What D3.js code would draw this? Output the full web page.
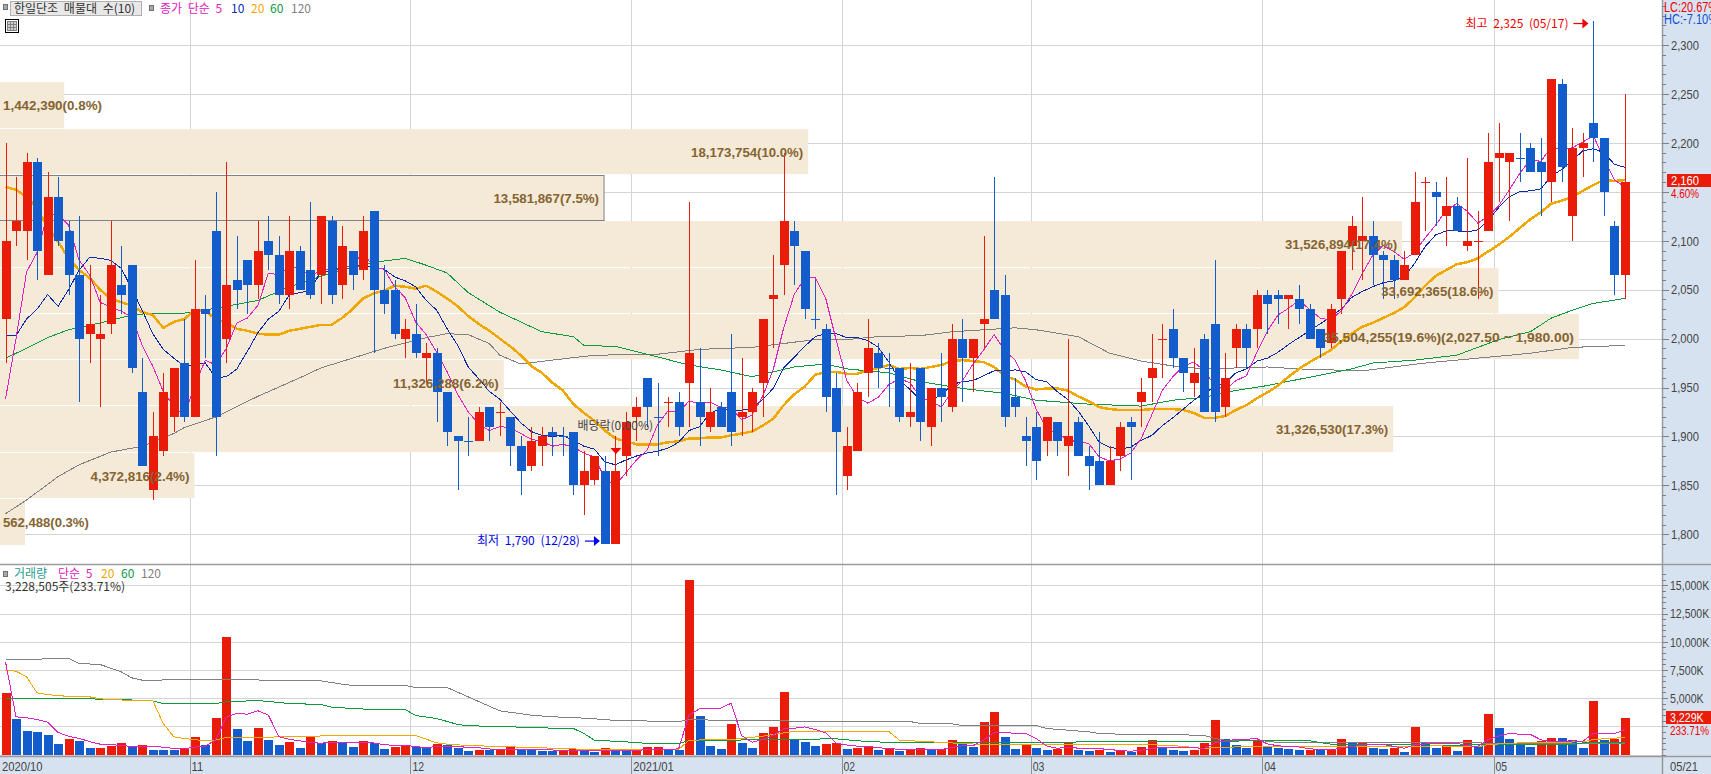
<!DOCTYPE html>
<html>
<head>
<meta charset="utf-8">
<script src="https://cdnjs.cloudflare.com/ajax/libs/d3/7.8.5/d3.min.js"></script>
<style>
html, body { margin: 0; padding: 0; background: #fff; }
svg { display: block; }
text { font-family: "Noto Sans CJK KR", "Liberation Sans", sans-serif; font-size: 12px; word-spacing: 3px; }
.num { font-family: "Liberation Sans", sans-serif; font-size: 13.5px; word-spacing: 0; }
</style>
</head>
<body>
<div id="chart"></div>
<script>
// month tick labels and the candle index where each month starts
const monthLabels = ["2020/10", "11", "12", "2021/01", "02", "03", "04", "05"];
const monthStarts = [0, 18, 39, 60, 80, 98, 120, 142];

// daily candles
const opens = [2020,2110,2110,2180,2065,2145,2110,2065,2005,2000,2015,2055,2075,1945,1845,1885,1920,1975,1920,2030,2110,2000,2060,2080,2055,2100,2085,2045,2090,2070,2065,2120,2055,2090,2070,2130,2050,2050,2000,2005,1980,1985,1945,1900,1895,1895,1930,1925,1920,1890,1870,1890,1905,1900,1905,1850,1855,1865,1790,1880,1920,1960,1920,1935,1935,1955,1935,1910,1930,1945,1920,1925,1955,2040,2075,2110,2090,2020,2010,1950,1860,1885,1965,1985,1970,1970,1920,1970,1910,1950,1930,2000,1980,2015,2050,2045,1940,1900,1910,1895,1915,1890,1915,1880,1875,1850,1880,1915,1935,1960,2000,2010,1980,1955,2000,2015,1930,1990,2010,2010,2045,2045,2040,2040,2030,2010,1995,2040,2095,2100,2105,2085,2080,2060,2085,2160,2150,2125,2135,2095,2100,2110,2185,2180,2185,2195,2180,2160,2260,2125,2195,2220,2205,2115,2065];
const highs = [2200,2165,2190,2185,2170,2165,2120,2125,2075,2045,2120,2095,2075,1980,1925,1965,1970,2020,2080,2045,2150,2180,2105,2080,2120,2125,2105,2125,2095,2140,2125,2125,2115,2090,2125,2130,2075,2060,2020,2035,1995,1990,1945,1900,1920,1930,1930,1935,1920,1900,1910,1910,1910,1910,1905,1885,1880,1880,1900,1925,1940,1960,1955,1940,1945,2140,1990,1950,1935,2005,1980,1950,2020,2085,2190,2120,2090,2060,2015,1965,1910,1955,2020,1995,1985,1970,1975,1970,1950,1985,2015,2020,2000,2105,2165,2065,1960,1920,1925,1920,1915,2000,1920,1890,1905,1890,1915,1920,1960,2005,2015,2030,1980,1990,2005,2080,1985,2015,2015,2050,2050,2050,2045,2055,2035,2010,2035,2090,2125,2145,2120,2090,2085,2090,2170,2165,2160,2165,2145,2185,2130,2210,2220,2190,2210,2200,2205,2265,2265,2215,2210,2325,2205,2120,2250];
const lows = [1975,2095,2080,2060,2065,2095,2045,1935,1975,1930,2005,2025,1965,1870,1835,1880,1905,1915,1920,1980,1880,1975,2030,2025,2040,2070,2035,2030,2050,2040,2035,2035,2040,2050,2060,1985,2025,2000,1980,1980,1955,1915,1890,1845,1880,1895,1895,1900,1870,1840,1865,1870,1880,1880,1840,1820,1850,1790,1790,1860,1895,1910,1880,1910,1900,1910,1890,1905,1910,1890,1900,1905,1920,1990,2045,2055,2020,2010,1925,1840,1845,1885,1940,1950,1930,1915,1910,1895,1890,1915,1925,1935,1945,1990,2020,1910,1920,1870,1855,1880,1880,1860,1880,1845,1850,1850,1865,1855,1910,1935,1960,1970,1945,1940,1925,1915,1920,1970,1970,1990,2005,2015,2010,2015,2000,1980,1990,2025,2070,2060,2055,2040,2040,2060,2085,2110,2115,2095,2110,2090,2040,2110,2140,2120,2160,2170,2125,2140,2160,2100,2165,2180,2125,2045,2040];
const closes = [2100,2120,2180,2090,2145,2100,2065,2000,2015,2005,2075,2045,1970,1870,1900,1945,1970,1920,2030,2025,1920,2055,2050,2055,2090,2085,2045,2090,2050,2045,2125,2045,2095,2065,2110,2050,2035,2005,2010,1985,1985,1945,1905,1895,1895,1925,1910,1925,1890,1865,1895,1900,1900,1900,1850,1865,1880,1790,1865,1915,1930,1930,1920,1935,1910,1985,1920,1925,1910,1905,1925,1945,2020,2045,2120,2095,2030,2020,1940,1905,1890,1945,1990,1970,1970,1920,1925,1915,1950,1940,2000,1980,2000,2020,2020,1920,1930,1895,1875,1920,1895,1900,1880,1870,1850,1875,1910,1910,1945,1970,2000,1980,1965,1965,1925,1925,1960,2010,1990,2045,2035,2040,2045,2030,2000,1990,2030,2090,2115,2105,2085,2080,2060,2075,2140,2160,2145,2135,2110,2100,2100,2180,2190,2190,2185,2170,2170,2265,2175,2195,2200,2205,2150,2065,2160];
// crosses (open = close) that are drawn red in the picture
const redCrosses = [47, 63, 110, 135, 140];

// price moving averages, per candle
const ma5 = [1938,2000,2068,2088,2127,2127,2116,2080,2065,2037,2032,2028,2022,1993,1972,1946,1931,1921,1953,1978,1973,1990,2016,2021,2034,2067,2065,2073,2072,2063,2071,2071,2072,2075,2088,2073,2071,2053,2042,2017,2004,1986,1966,1943,1925,1913,1906,1910,1909,1903,1897,1895,1890,1892,1889,1883,1879,1857,1850,1863,1876,1886,1912,1926,1925,1936,1934,1935,1930,1929,1917,1922,1941,1968,2011,2045,2062,2062,2041,1998,1957,1940,1934,1940,1953,1959,1955,1940,1936,1930,1946,1957,1974,1988,2004,1988,1978,1957,1928,1908,1903,1897,1894,1893,1879,1875,1877,1883,1898,1922,1947,1961,1972,1976,1967,1952,1948,1957,1962,1986,2008,2024,2031,2039,2030,2021,2019,2028,2045,2066,2085,2095,2089,2081,2088,2103,2116,2131,2138,2130,2118,2125,2136,2152,2169,2183,2181,2196,2193,2195,2201,2207,2184,2162,2155];
const ma10 = [2003,2003,2020,2030,2045,2033,2050,2070,2083,2082,2080,2072,2051,2029,2005,1989,1980,1972,1973,1975,1960,1961,1969,1987,2006,2020,2028,2045,2047,2049,2069,2068,2073,2074,2076,2072,2071,2063,2059,2053,2039,2029,2010,1993,1971,1959,1946,1938,1926,1914,1905,1901,1900,1901,1896,1890,1887,1874,1871,1876,1880,1883,1885,1888,1894,1906,1910,1924,1928,1927,1927,1928,1938,1949,1970,1981,1992,2002,2005,2005,2001,2001,1998,1991,1976,1958,1948,1937,1938,1942,1953,1956,1957,1962,1967,1967,1968,1966,1958,1956,1946,1938,1926,1911,1894,1889,1887,1889,1896,1901,1911,1919,1928,1937,1945,1950,1955,1965,1969,1977,1980,1986,1994,2001,2008,2015,2022,2030,2042,2048,2053,2057,2059,2063,2077,2094,2106,2110,2110,2109,2111,2121,2134,2145,2150,2151,2153,2166,2173,2182,2192,2194,2190,2178,2175];
const ma20 = [2155,2152,2145,2133,2114,2099,2082,2070,2062,2050,2041,2037,2034,2027,2024,2011,2017,2020,2029,2028,2020,2016,2010,2008,2005,2004,2004,2008,2010,2012,2014,2014,2021,2030,2041,2046,2049,2054,2053,2051,2054,2048,2041,2033,2023,2015,2008,2000,1992,1983,1972,1965,1955,1947,1933,1924,1916,1906,1898,1895,1892,1892,1892,1894,1895,1898,1898,1899,1899,1901,1903,1905,1911,1918,1932,1943,1951,1963,1966,1966,1964,1964,1968,1970,1973,1969,1970,1969,1971,1973,1977,1978,1977,1976,1971,1962,1958,1951,1948,1949,1949,1947,1941,1936,1930,1928,1927,1927,1927,1928,1928,1928,1927,1924,1919,1919,1921,1927,1932,1939,1945,1952,1961,1969,1976,1982,1988,1997,2005,2012,2016,2021,2026,2032,2042,2054,2064,2070,2076,2078,2082,2089,2096,2104,2113,2122,2129,2138,2141,2145,2151,2157,2162,2161,2162];
// slower averages, [candle index, price] read at the turning points
const ma60 = [[0,1980],[2,1990],[4,2001],[6,2009],[9,2016],[12,2024],[14,2026],[17,2026],[20,2031],[24,2039],[27,2053],[31,2067],[35,2078],[38,2082],[40,2075],[42,2067],[44,2047],[47,2027],[51,2007],[54,2002],[55,1993],[58,1992],[61,1984],[65,1973],[68,1968],[71,1961],[73,1966],[75,1971],[78,1974],[80,1969],[84,1965],[87,1956],[91,1949],[95,1944],[98,1937],[103,1933],[108,1931],[111,1937],[114,1940],[117,1947],[120,1952],[128,1969],[130,1975],[134,1978],[138,1983],[142,1999],[145,2007],[147,2021],[149,2029],[151,2036],[154,2041]];
const ma120 = [[0,1821],[2,1835],[5,1859],[7,1871],[10,1884],[13,1890],[16,1903],[17,1909],[20,1920],[24,1941],[28,1960],[30,1970],[33,1980],[36,1990],[40,2001],[42,2005],[44,2004],[46,1995],[47,1983],[49,1974],[52,1978],[56,1983],[62,1984],[66,1989],[71,1991],[74,1995],[77,1999],[80,1999],[83,2002],[87,2003],[90,2007],[96,2011],[98,2009],[102,2002],[105,1985],[108,1977],[111,1972],[114,1969],[120,1971],[123,1969],[129,1967],[135,1975],[145,1985],[149,1991],[154,1993]];

// volume in thousands of shares, R = up from the day before, B = down
const volume = [5437,3132,2068,1980,1714,916,1359,1182,561,561,739,1005,650,827,384,384,384,561,1537,827,3221,10402,2246,1182,2334,1271,827,1093,561,1537,1005,1182,1093,650,1182,1005,473,650,739,650,561,916,827,561,296,384,384,384,650,384,384,296,296,384,473,296,207,561,296,296,384,650,650,384,384,15455,3398,739,473,2689,1005,561,1891,2423,5526,1271,1093,739,916,1005,473,561,650,384,473,296,473,561,384,473,1271,1093,650,2866,3753,1537,473,827,561,384,473,1005,384,296,384,207,384,207,650,1271,650,384,296,384,1005,3044,1359,827,561,1182,739,561,473,384,384,384,384,1359,1005,1005,561,473,561,207,2423,1005,561,739,296,1271,739,3576,2334,1359,1005,650,1182,1448,1448,1271,561,4728,1271,1359,3221];
const volumeDir = "RBBBBBRBBRRRBRBBBRRBRRBBRBBRBRBRBBRBBRRBBRBBBRBRRBBBBRRBBRBBRRRBBRBBBRBBRRRBBBRRBRRBRBRRBRRBBRRBBRBBRRBBRBRBRRBBBRRRBBBRBBBBRBRRBRBBRBRBBRBRBRBBBBRRBBBRBRR";
const volMa5 = [8215,3340,3250,3100,2866,1962,1607,1430,1146,916,880,810,703,756,721,650,526,508,650,739,1306,3310,3647,3576,3877,3487,1572,1342,1217,1058,1005,1076,1076,1094,1023,1023,881,792,810,704,615,703,739,703,632,597,491,402,420,437,437,420,402,349,367,349,331,384,367,331,349,438,455,473,491,3505,4054,4072,4090,4551,1661,1094,1324,1714,2281,2335,2441,2211,1909,1005,845,739,721,615,508,473,455,438,438,438,633,757,774,1271,1927,1980,1856,1891,1430,757,544,650,562,509,509,455,331,296,367,544,633,633,650,597,544,1023,1218,1324,1359,1395,934,774,703,668,508,437,402,579,703,828,863,881,721,562,845,934,952,987,1005,775,721,1324,1643,1856,1803,1785,1306,1129,1147,1200,1182,1891,1856,1838,2228];
const volMa20 = [[0,7447],[1,7388],[2,6885],[3,5467],[4,5319],[5,5201],[8,5112],[9,4935],[12,4787],[14,4787],[15,2748],[16,1566],[17,1418],[19,1212],[20,1271],[21,1507],[24,1507],[26,1566],[29,1625],[33,1684],[39,1684],[41,1034],[42,916],[44,798],[47,709],[50,621],[54,502],[55,443],[64,443],[65,1271],[69,1330],[72,1625],[74,1921],[75,2039],[84,2039],[85,1271],[88,1123],[91,975],[93,887],[108,887],[111,798],[114,532],[115,621],[120,739],[127,739],[132,739],[133,680],[136,768],[140,680],[141,887],[144,1034],[150,1123],[151,1330],[154,1507]];
const volMa60 = [[0,4964],[8,4964],[9,4876],[13,4817],[14,4758],[15,4521],[20,4521],[21,4669],[24,4787],[25,4698],[27,4521],[30,4433],[31,4196],[33,4078],[35,3989],[38,3989],[39,3457],[41,3191],[43,2660],[44,2541],[48,2482],[49,2394],[54,2305],[55,1862],[56,1271],[60,1064],[61,975],[64,975],[65,1212],[73,1330],[79,1389],[81,1212],[84,1064],[108,1123],[114,1123],[118,1212],[124,1212],[126,916],[132,887],[136,827],[149,887],[150,1034],[154,1034]];
const volMa120 = [[0,8422],[3,8422],[4,8510],[6,8510],[7,8067],[9,7979],[11,7328],[12,6797],[13,6590],[21,6649],[25,6590],[30,6531],[32,6235],[33,6117],[38,6117],[39,5940],[42,5940],[44,5112],[47,3871],[50,3487],[52,3339],[54,3280],[57,3103],[58,3014],[64,2925],[65,3073],[72,3014],[77,2925],[86,2925],[87,2748],[90,2719],[91,2571],[98,2571],[99,2305],[103,2009],[104,1862],[107,1773],[108,1743],[112,1773],[113,1684],[114,1684],[115,1418],[116,1271],[119,1271],[121,1064],[125,1034],[154,1005]];

// volume profile bands, low to high
const bandEdges = [1788,1836,1883,1931,1978,2025,2072,2120,2167,2214,2262];
const bandVolumes = [562488,4372816,31326530,11326288,35504255,33692365,31526894,13581867,18173754,1442390];
const bandLabels = ["562,488(0.3%)","4,372,816(2.4%)","31,326,530(17.3%)","11,326,288(6.2%)","35,504,255(19.6%)(2,027.50 ~ 1,980.00)","33,692,365(18.6%)","31,526,894(17.4%)","13,581,867(7.5%)","18,173,754(10.0%)","1,442,390(0.8%)"];

// 2,150 and 2,500K sit under the last-value tags in the picture, so only their tick marks show
const priceTicks = [1800,1850,1900,1950,2000,2050,2100,2150,2200,2250,2300];
const priceLabelTicks = [1800,1850,1900,1950,2000,2050,2100,2200,2250,2300];
const volumeTicks = [0,2500,5000,7500,10000,12500,15000];
const volumeLabelTicks = [5000,7500,10000,12500,15000];

const width = 1711, height = 774;
const plotRight = 1662;
const red = "#e91c0a", blue = "#125ccc", axisBg = "#d6e2f0", gridColor = "#d4d4d4", lineColor = "#9a9a9a";
const maColors = {ma5: "#e020c0", ma10: "#0a2aa8", ma20: "#f0a800", ma60: "#0c9a3c", ma120: "#808080"};

const svg = d3.select("#chart").append("svg")
    .attr("width", width)
    .attr("height", height);

// scales
const x = d3.scaleLinear().domain([0, closes.length - 1]).range([5.5, 1625]);
const y = d3.scaleLinear().domain([1800, 2300]).range([534.3, 45]);
const yVol = d3.scaleLinear().domain([0, 15000]).range([754.5, 585.3]);
const bandWidth = d3.scaleLinear().domain([0, 35504255]).range([0, 1579]);

// the reference font is narrow, squeeze the digits to the same width
const squeeze = (sel, perChar) => sel.each(function () {
    const n = this.textContent.length;
    d3.select(this)
        .attr("textLength", n * perChar)
        .attr("lengthAdjust", "spacingAndGlyphs");
});

// right panel clip
const defs = svg.append("defs");
defs.append("clipPath").attr("id", "rightClip").append("rect")
    .attr("x", plotRight).attr("y", 0).attr("width", width - plotRight).attr("height", height);

// gridlines
const grid = svg.append("g");
grid.selectAll(".h1").data(priceTicks).enter().append("line")
    .attr("x1", 0).attr("x2", plotRight)
    .attr("y1", d => Math.round(y(d)) + 0.5).attr("y2", d => Math.round(y(d)) + 0.5)
    .attr("stroke", gridColor);
grid.selectAll(".h2").data(volumeTicks).enter().append("line")
    .attr("x1", 0).attr("x2", plotRight)
    .attr("y1", d => Math.round(yVol(d)) + 0.5).attr("y2", d => Math.round(yVol(d)) + 0.5)
    .attr("stroke", gridColor);
grid.selectAll(".v").data(monthStarts.slice(1)).enter().append("line")
    .attr("x1", d => Math.round(x(d - 0.5)) + 0.5).attr("x2", d => Math.round(x(d - 0.5)) + 0.5)
    .attr("y1", 0).attr("y2", 756)
    .attr("stroke", gridColor);

// volume profile bands sit over the gridlines
const bands = svg.append("g");
bandVolumes.forEach((v, i) => {
    bands.append("rect")
        .attr("x", 0)
        .attr("y", y(bandEdges[i + 1]))
        .attr("width", bandWidth(v))
        .attr("height", y(bandEdges[i]) - y(bandEdges[i + 1]) - 1)
        .attr("fill", "#f5e9d8");
});
// the band holding the last close gets an outline
svg.append("rect")
    .attr("x", -2)
    .attr("y", Math.round(y(bandEdges[8])) + 0.5)
    .attr("width", bandWidth(bandVolumes[7]) + 2)
    .attr("height", y(bandEdges[7]) - y(bandEdges[8]) - 1)
    .attr("fill", "none")
    .attr("stroke", "#808080");

// moving averages under the candles
const lineDaily = d3.line().x((d, i) => x(i)).y(d => y(d));
const lineSparse = d3.line().x(d => x(d[0])).y(d => y(d[1]));
const drawLine = (sel, path, color, w) => sel.append("path")
    .attr("d", path)
    .attr("fill", "none")
    .attr("stroke", color)
    .attr("stroke-width", w)
    .attr("shape-rendering", "crispEdges");

drawLine(svg, lineSparse(ma120), maColors.ma120, 1);
drawLine(svg, lineSparse(ma60), maColors.ma60, 1);
drawLine(svg, lineDaily(ma20), maColors.ma20, 2.5);
drawLine(svg, lineDaily(ma10), maColors.ma10, 1);
drawLine(svg, lineDaily(ma5), maColors.ma5, 1);

// candles
const candles = svg.append("g").selectAll("g")
    .data(closes.map((c, i) => ({i: i, o: opens[i], h: highs[i], l: lows[i], c: c})))
    .enter().append("g")
    .attr("fill", d => (d.c > d.o || (d.c === d.o && redCrosses.indexOf(d.i) >= 0)) ? red : blue)
    .attr("shape-rendering", "crispEdges");

candles.append("rect")
    .attr("x", d => Math.round(x(d.i)))
    .attr("width", 1)
    .attr("y", d => y(d.h))
    .attr("height", d => y(d.l) - y(d.h));
candles.append("rect")
    .attr("x", d => Math.round(x(d.i)) - 4)
    .attr("width", 9)
    .attr("y", d => y(Math.max(d.o, d.c)))
    .attr("height", d => Math.max(1, y(Math.min(d.o, d.c)) - y(Math.max(d.o, d.c))));

// band labels on top of the candles
const labels = svg.append("g");
bandLabels.forEach((t, i) => {
    const w = t.length * 6.6;
    const right = bandWidth(bandVolumes[i]) - 5;
    labels.append("text")
        .attr("class", "num")
        .attr("x", right - w < 3 ? 3 : right - w)
        .attr("y", (y(bandEdges[i]) + y(bandEdges[i + 1])) / 2)
        .attr("dy", "0.36em")
        .attr("fill", "#846431")
        .attr("font-weight", "bold")
        .style("font-size", "13px")
        .text(t)
        .call(squeeze, 6.6);
});

// volume pane
svg.append("g").attr("shape-rendering", "crispEdges").selectAll("rect")
    .data(volume)
    .enter().append("rect")
    .attr("x", (d, i) => Math.round(x(i)) - 4)
    .attr("width", 9)
    .attr("y", d => yVol(d))
    .attr("height", d => 755 - yVol(d))
    .attr("fill", (d, i) => volumeDir[i] === "R" ? red : blue);

const lineVolDaily = d3.line().x((d, i) => x(i)).y(d => yVol(d));
const lineVolSparse = d3.line().x(d => x(d[0])).y(d => yVol(d[1]));
drawLine(svg, lineVolSparse(volMa120), maColors.ma120, 1);
drawLine(svg, lineVolSparse(volMa60), maColors.ma60, 1);
drawLine(svg, lineVolSparse(volMa20), maColors.ma20, 1);
drawLine(svg, lineVolDaily(volMa5), maColors.ma5, 1);

// annotations
const note = (t, px, py, color, anchor) => svg.append("text")
    .attr("x", px).attr("y", py).attr("dy", "0.36em")
    .attr("fill", color)
    .attr("text-anchor", anchor || "start")
    .text(t);

note("최고 2,325 (05/17)", x(151) - 25, y(2325) + 3, "#f00000", "end");
note("최저 1,790 (12/28)", x(57) - 25, y(1790) - 3, "#0000f0", "end");
note("배당락(0.00%)", x(58) - 38, 426, "#444444");

// arrows
const arrow = (tipX, tipY, color) => {
    svg.append("line")
        .attr("x1", tipX - 15).attr("x2", tipX - 3)
        .attr("y1", tipY).attr("y2", tipY)
        .attr("stroke", color).attr("stroke-width", 1.2);
    svg.append("path")
        .attr("d", d3.line()([[tipX, tipY], [tipX - 6, tipY - 5], [tipX - 6, tipY + 5]]))
        .attr("fill", color);
};
arrow(x(151) - 5, y(2325) + 3, "#f00000");
arrow(x(57) - 5, y(1790) - 3, "#0000f0");
// ex-dividend marker over the candle
svg.append("path")
    .attr("d", d3.line()([[x(58) - 5, 448], [x(58) + 6, 448], [x(58) + 0.5, 454]]))
    .attr("fill", "#f00000");

// legends
const legendBox = (px, py) => svg.append("rect")
    .attr("x", px + 0.5).attr("y", py + 0.5).attr("width", 4).attr("height", 5)
    .attr("fill", "#a8a8a8").attr("stroke", "#707070");
legendBox(3, 4);
svg.append("rect").attr("x", 10.5).attr("y", 1.5).attr("width", 131).attr("height", 14)
    .attr("fill", "#e8e8e8").attr("stroke", "#b0b0b0");
note("한일단조 매물대 수(10)", 14, 8.5, "#333333");
legendBox(149, 5);
note("종가 단순 5", 160, 8.5, maColors.ma5);
note("10", 231, 8.5, maColors.ma10);
note("20", 251, 8.5, maColors.ma20);
note("60", 270, 8.5, maColors.ma60);
note("120", 291, 8.5, maColors.ma120);

// table icon
const icon = svg.append("g").attr("shape-rendering", "crispEdges");
icon.append("rect").attr("x", 5.5).attr("y", 19.5).attr("width", 13).attr("height", 13)
    .attr("fill", "#fff").attr("stroke", "#000");
icon.append("rect").attr("x", 7.5).attr("y", 21.5).attr("width", 9).attr("height", 9)
    .attr("fill", "#d0d0d0").attr("stroke", "#808080");
[10.5, 13.5].forEach(p => icon.append("line").attr("x1", p).attr("x2", p).attr("y1", 21).attr("y2", 31).attr("stroke", "#808080"));
[24.5, 27.5].forEach(p => icon.append("line").attr("x1", 7).attr("x2", 17).attr("y1", p).attr("y2", p).attr("stroke", "#808080"));

legendBox(3, 571);
note("거래량", 14, 574, "#2a9d8f");
note("단순 5", 58, 574, maColors.ma5);
note("20", 101, 574, maColors.ma20);
note("60", 121, 574, maColors.ma60);
note("120", 141, 574, maColors.ma120);
note("3,228,505주(233.71%)", 5, 587, "#333333");

// right axis panel and bottom date strip
svg.append("rect").attr("x", plotRight).attr("y", 0).attr("width", width - plotRight).attr("height", height).attr("fill", axisBg);
svg.append("rect").attr("x", 0).attr("y", 756).attr("width", width).attr("height", 18).attr("fill", axisBg);
svg.append("line").attr("x1", 0).attr("x2", width).attr("y1", 564.5).attr("y2", 564.5).attr("stroke", lineColor).attr("stroke-width", 1.5);
svg.append("line").attr("x1", 0).attr("x2", width).attr("y1", 756.5).attr("y2", 756.5).attr("stroke", lineColor).attr("stroke-width", 1.5);
svg.append("line").attr("x1", plotRight + 0.5).attr("x2", plotRight + 0.5).attr("y1", 0).attr("y2", height).attr("stroke", lineColor).attr("stroke-width", 1.5);

// minor ticks first, then the labelled ticks
const axisPane = svg.append("g").attr("transform", `translate(${plotRight},0)`);
axisPane.call(d3.axisRight(y).tickValues(d3.range(1790, 2350, 10)).tickFormat("").tickSize(4));
axisPane.append("g").call(d3.axisRight(y).tickValues(priceTicks).tickFormat("").tickSize(7));
const priceLabels = axisPane.append("g").call(d3.axisRight(y).tickValues(priceLabelTicks).tickFormat(d3.format(",")).tickSize(7).tickPadding(2));

const volAxisPane = svg.append("g").attr("transform", `translate(${plotRight},0)`);
volAxisPane.call(d3.axisRight(yVol).tickValues(d3.range(0, 16500, 500)).tickFormat("").tickSize(4));
volAxisPane.append("g").call(d3.axisRight(yVol).tickValues(volumeTicks.slice(1)).tickFormat("").tickSize(6));
const volLabels = volAxisPane.append("g").call(d3.axisRight(yVol).tickValues(volumeLabelTicks).tickFormat(d => d3.format(",")(d) + "K").tickSize(6).tickPadding(2));

[axisPane, volAxisPane].forEach(g => {
    g.selectAll(".domain").remove();
    g.selectAll("line").attr("stroke", "#808080").attr("shape-rendering", "crispEdges");
});
[priceLabels, volLabels].forEach(g => {
    g.selectAll("text")
        .attr("class", "num")
        .attr("fill", "#444444")
        .style("font-family", '"Liberation Sans", sans-serif')
        .style("font-size", "13.5px")
        .call(squeeze, 5.6);
});

// date axis
svg.append("g").selectAll("text")
    .data(monthLabels).enter().append("text")
    .attr("class", "num")
    .attr("x", (d, i) => i === 0 ? 2 : x(monthStarts[i] - 0.5) + 2)
    .attr("y", 766).attr("dy", "0.36em")
    .attr("fill", "#444444")
    .text(d => d)
    .call(squeeze, 5.8);
svg.append("g").selectAll("line")
    .data(monthStarts.slice(1)).enter().append("line")
    .attr("x1", d => Math.round(x(d - 0.5)) + 0.5).attr("x2", d => Math.round(x(d - 0.5)) + 0.5)
    .attr("y1", 757).attr("y2", height)
    .attr("stroke", "#909090");
svg.append("line").attr("x1", plotRight + 0.5).attr("x2", plotRight + 0.5).attr("y1", 757).attr("y2", height).attr("stroke", "#909090");
note("05/21", plotRight + 8, 766, "#444444").attr("class", "num").call(squeeze, 5.6);

// last values on the axis
const rightText = svg.append("g").attr("clip-path", "url(#rightClip)");
const rightNote = (t, py, color) => rightText.append("text")
    .attr("class", "num")
    .attr("x", plotRight + 2).attr("y", py).attr("dy", "0.36em").attr("fill", color)
    .style("font-size", "14px")
    .text(t)
    .call(squeeze, 6);
rightNote("LC:20.67%", 7, "#f00000");
rightNote("HC:-7.10%", 19, "#1050d0");
rightText.append("rect").attr("x", 1667).attr("y", y(2160) - 8).attr("width", 44).attr("height", 13).attr("fill", red);
const tag = (t, px, py, color) => rightText.append("text")
    .attr("class", "num")
    .attr("x", px).attr("y", py).attr("dy", "0.36em").attr("fill", color)
    .text(t)
    .call(squeeze, 5.6);
tag("2,160", 1671, y(2160) - 1.5, "#ffffff");
tag("4.60%", 1671, y(2160) + 11, "#f00000");
rightText.append("rect").attr("x", 1666).attr("y", 711).attr("width", 45).attr("height", 13).attr("fill", red);
tag("3,229K", 1670, 717.5, "#ffffff");
tag("233.71%", 1670, 730, "#f00000");
</script>
</body>
</html>
